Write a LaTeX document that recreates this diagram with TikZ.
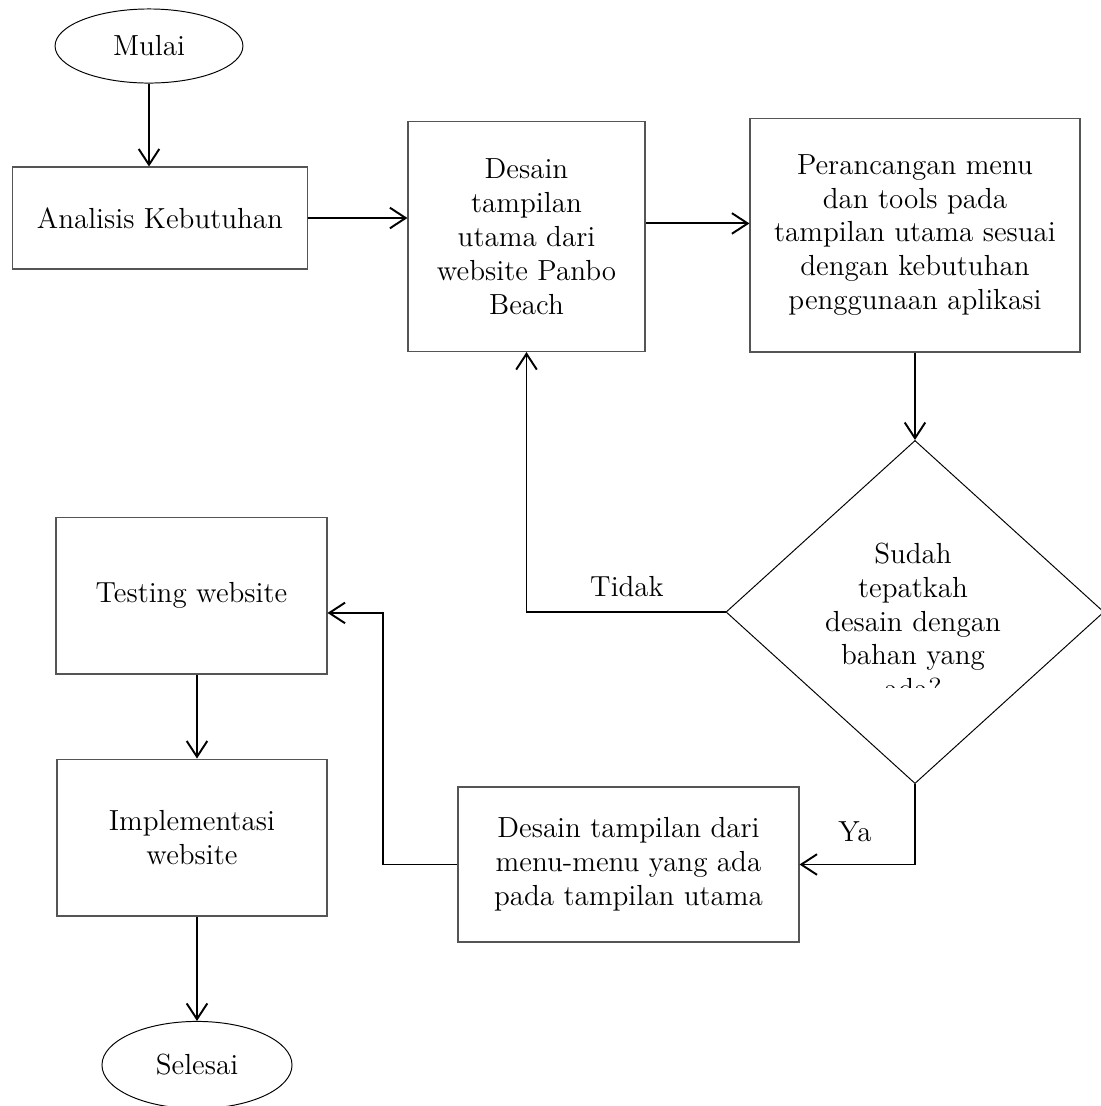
\documentclass[tikz,border=0pt]{standalone}
\usepackage{xcolor}
\usepackage{tikz}
\usetikzlibrary{arrows.meta,calc,positioning,shapes.geometric}
\definecolor{boxgray}{RGB}{85,85,85}

\begin{document}
\begin{tikzpicture}[x=0.413pt,y=-0.413pt,>={Straight Barb[length=6.5pt,width=8.5pt]},
  every node/.style={font=\fontsize{12}{14}\selectfont,align=center},
  box/.style={draw=boxgray,line width=0.45pt,rectangle,inner sep=0pt},
  term/.style={draw,line width=0.4pt,ellipse,inner sep=0pt},
  flow/.style={->,line width=0.8pt}]
  \useasboundingbox (0,0) rectangle (1101,1106);
  \node[term,minimum width=77.6pt,minimum height=30.6pt] (start) at (149,46) {Mulai};
  \node[box,minimum width=122.2pt,minimum height=42.1pt] (ana) at (160,218) {Analisis Kebutuhan};
  \node[box,minimum width=97.9pt,minimum height=95pt] (desain) at (526.5,236.5) {Desain\\tampilan\\utama dari\\website Panbo\\Beach};
  \node[box,minimum width=136.3pt,minimum height=96.6pt] (per) at (915,235) {Perancangan menu\\dan tools pada\\tampilan utama sesuai\\dengan kebutuhan\\penggunaan aplikasi};
  \node[draw,line width=0.4pt,diamond,inner sep=0pt,minimum width=156.1pt,minimum height=141.7pt] (dec) at (915,612) {};
  \begin{scope}
    \clip (700,440) rectangle (1101,687);
    \node (dectext) at (913,621) {Sudah\\tepatkah\\desain dengan\\bahan yang\\ada?};
  \end{scope}
  \node (tidak) at (627,587) {Tidak};
  \node (ya) at (855,832) {Ya};
  \node[box,minimum width=140.8pt,minimum height=64pt] (menu) at (628.5,864.5) {Desain tampilan dari\\menu-menu yang ada\\pada tampilan utama};
  \node[box,minimum width=111.9pt,minimum height=64.8pt] (test) at (191.5,595.5) {Testing website};
  \node[box,minimum width=111.5pt,minimum height=64.8pt] (impl) at (192,837.5) {Implementasi\\website};
  \node[term,minimum width=78.5pt,minimum height=36pt] (end) at (197,1065) {Selesai};
  \coordinate (bend) at (383,864.5);

  \draw[flow] (start.south) -- (start.south |- ana.north);
  \draw[flow] (ana.east) -- (ana.east -| desain.west);
  \draw[flow] ([yshift=5.4pt]desain.east) -- ([yshift=5.4pt]desain.east -| per.west);
  \draw[flow] (per.south) -- (dec.north);
  \draw[flow] (dec.west) -| (desain.south);
  \draw[flow] (dec.south) |- (menu.east);
  \draw[flow] (menu.west) -- (bend) |- ([yshift=-7.2pt]test.east);
  \draw[flow] (end.north |- test.south) -- (end.north |- impl.north);
  \draw[flow] (end.north |- impl.south) -- (end.north);
\end{tikzpicture}
\end{document}
